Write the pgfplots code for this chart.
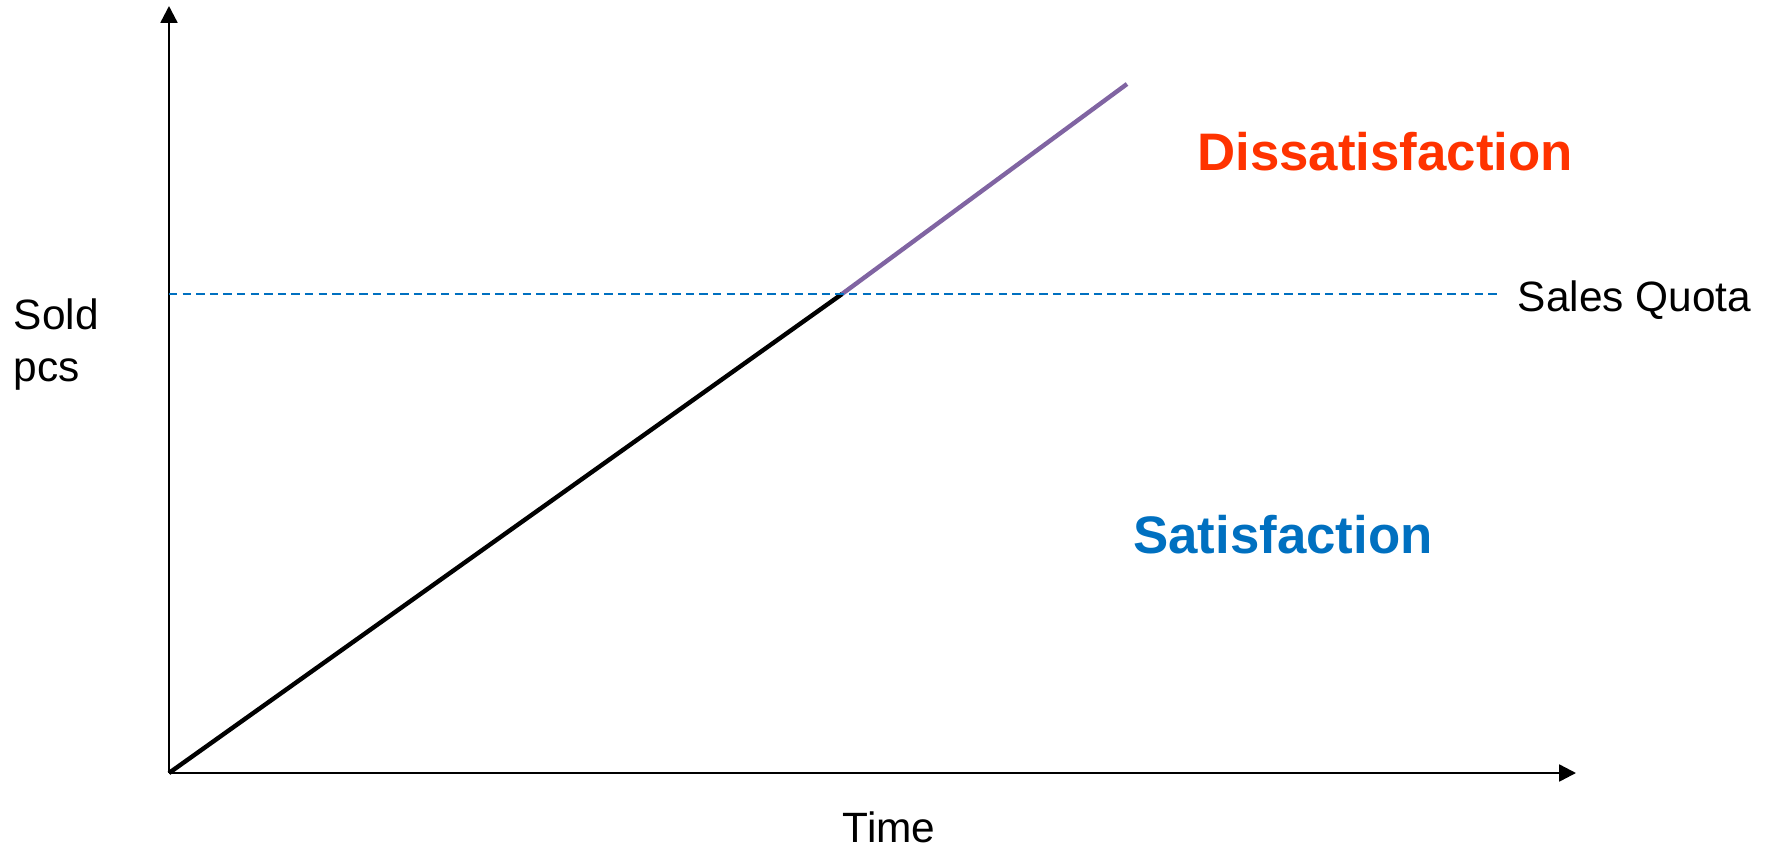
\documentclass[border=0pt]{standalone}
\usepackage{fontspec}
\setmainfont{Liberation Sans}
\usepackage{pgfplots}
\pgfplotsset{compat=1.18}
\usetikzlibrary{arrows.meta}
\definecolor{quotablue}{HTML}{0070C0}
\definecolor{dissred}{HTML}{FF3300}
\definecolor{linepurple}{HTML}{8064A2}
\begin{document}
\begin{tikzpicture}
\begin{axis}[
  scale only axis,
  width=351.75pt, height=191.75pt,
  xmin=0, xmax=1407, ymin=0, ymax=767,
  axis lines=left,
  axis line style={line width=0.6pt, -{Triangle[width=4.2pt,length=4.2pt]}},
  xtick=\empty, ytick=\empty,
  clip=false,
]
% sold pieces below the quota
\addplot[black, line width=1.1pt] coordinates {(0,0) (673,479)};
% sold pieces above the quota
\addplot[linepurple, line width=1.1pt] coordinates {(673,479) (958,689)};
% sales quota
\addplot[quotablue, line width=0.65pt, dash pattern=on 2.1pt off 1.3pt] coordinates {(0,479) (1329,479)};

\node[anchor=west, inner sep=0pt, font=\fontsize{10.6}{13}\selectfont] at (axis cs:1348,473) {Sales Quota};
\node[anchor=north west, inner sep=0pt, align=left, font=\fontsize{10.6}{13}\selectfont] at (axis cs:-156,475) {Sold\\pcs};
\node[inner sep=0pt, font=\fontsize{10.6}{13}\selectfont] at (axis cs:720,-54) {Time};
\node[inner sep=0pt, text=dissred, font=\fontsize{13.2}{15}\selectfont\bfseries] at (axis cs:1216,621) {Dissatisfaction};
\node[inner sep=0pt, text=quotablue, font=\fontsize{13.2}{15}\selectfont\bfseries] at (axis cs:1114,238) {Satisfaction};

\coordinate (bl) at (axis cs:-169,-75);
\coordinate (tr) at (axis cs:1596,773);
\end{axis}
\pgfresetboundingbox
\useasboundingbox (bl) rectangle (tr);
\end{tikzpicture}
\end{document}
